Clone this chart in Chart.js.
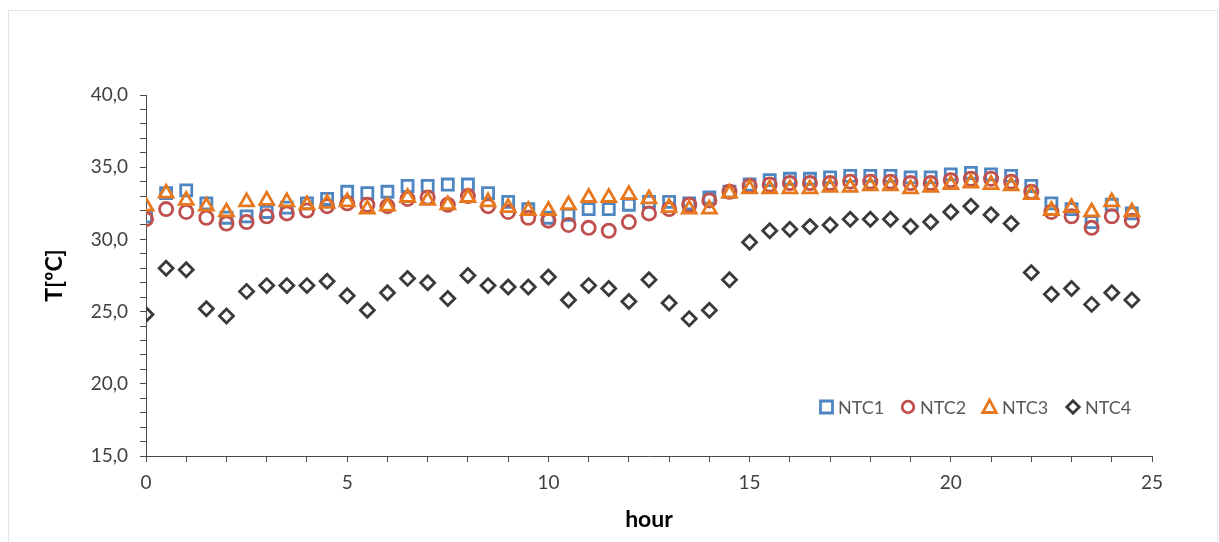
<!DOCTYPE html>
<html>
<head>
<meta charset="utf-8">
<script src="https://cdn.jsdelivr.net/npm/chart.js@4.4.1/dist/chart.umd.min.js"></script>
<style>
  html, body { margin: 0; padding: 0; background: #ffffff; }
  #wrap { position: relative; width: 1219px; height: 542px; }
  canvas { display: block; }
</style>
</head>
<body>
<div id="wrap"><canvas id="c" width="1219" height="542"></canvas></div>
<script>
const hours = [0,0.5,1,1.5,2,2.5,3,3.5,4,4.5,5,5.5,6,6.5,7,7.5,8,8.5,9,9.5,
               10,10.5,11,11.5,12,12.5,13,13.5,14,14.5,15,15.5,16,16.5,17,17.5,18,18.5,19,19.5,
               20,20.5,21,21.5,22,22.5,23,23.5,24,24.5];
const ntc1 = [31.6,33.2,33.4,32.5,31.5,31.6,31.9,32.2,32.5,32.8,
              33.3,33.2,33.3,33.7,33.7,33.8,33.8,33.2,32.6,32.1,
              31.5,31.7,32.1,32.1,32.4,32.6,32.6,32.5,32.9,33.3,
              33.8,34.1,34.2,34.2,34.3,34.4,34.4,34.4,34.3,34.3,
              34.5,34.6,34.5,34.4,33.7,32.5,32.1,31.2,32.4,31.8];
const ntc2 = [31.4,32.1,31.9,31.5,31.1,31.2,31.6,31.8,32.0,32.3,
              32.5,32.4,32.3,32.8,32.9,32.4,33.0,32.3,31.9,31.5,
              31.3,31.0,30.8,30.6,31.2,31.8,32.1,32.4,32.7,33.3,
              33.7,33.8,33.9,33.9,33.9,34.0,34.0,34.0,33.9,33.9,
              34.1,34.2,34.2,34.0,33.3,31.9,31.6,30.8,31.6,31.3];
const ntc3 = [32.3,33.2,32.7,32.3,31.9,32.6,32.7,32.6,32.4,32.5,
              32.6,32.1,32.3,32.9,32.7,32.4,32.9,32.6,32.2,32.0,
              32.0,32.4,32.9,32.9,33.1,32.8,32.2,32.1,32.1,33.2,
              33.5,33.5,33.5,33.5,33.6,33.6,33.7,33.7,33.5,33.6,
              33.8,33.9,33.8,33.7,33.1,32.0,32.2,31.9,32.6,31.9];
const ntc4 = [24.8,28.0,27.9,25.2,24.7,26.4,26.8,26.8,26.8,27.1,
              26.1,25.1,26.3,27.3,27.0,25.9,27.5,26.8,26.7,26.7,
              27.4,25.8,26.8,26.6,25.7,27.2,25.6,24.5,25.1,27.2,
              29.8,30.6,30.7,30.9,31.0,31.4,31.4,31.4,30.9,31.2,
              31.9,32.3,31.7,31.1,27.7,26.2,26.6,25.5,26.3,25.8];
const seriesNames = ['NTC1','NTC2','NTC3','NTC4'];
const xTickLabels = ['0','5','10','15','20','25'];
const yTickLabels = ['15,0','20,0','25,0','30,0','35,0','40,0'];

const colors = ['#4f86c1','#c0504d','#e8781e','#3a3a3a'];
const styles = ['rect','circle','triangle','rectRot'];
const radii = [7.8,6.6,8.0,7.0];

function pts(arr){ return hours.map((h,i)=>({x:h, y:arr[i]})); }
const allSeries = [ntc1, ntc2, ntc3, ntc4];

const datasets = allSeries.map((s,i)=>({
  label: seriesNames[i],
  data: pts(s),
  showLine: false,
  pointStyle: styles[i],
  pointRadius: radii[i],
  pointHoverRadius: radii[i],
  pointBorderWidth: 2.8,
  pointBackgroundColor: 'rgba(0,0,0,0)',
  pointBorderColor: colors[i],
  borderColor: colors[i],
  backgroundColor: 'rgba(0,0,0,0)',
  order: 4 - i
}));

const FONT = 'Lato, "Open Sans", sans-serif';
const AXIS = '#4a4a4a';

const framePlugin = {
  id: 'frame',
  beforeDraw(chart){
    const ctx = chart.ctx;
    ctx.save();
    ctx.fillStyle = '#ffffff';
    ctx.fillRect(0,0,chart.width,chart.height);
    ctx.strokeStyle = '#e6e6e6';
    ctx.lineWidth = 1;
    ctx.beginPath();
    ctx.moveTo(8.5, 542); ctx.lineTo(8.5, 10.5); ctx.lineTo(1217.5, 10.5); ctx.lineTo(1217.5, 542);
    ctx.stroke();
    ctx.restore();
  }
};

const legendPlugin = {
  id: 'customLegend',
  afterDraw(chart){
    const ctx = chart.ctx;
    const items = [
      {mx: 826.5, tx: 838},
      {mx: 908, tx: 920},
      {mx: 989.5, tx: 1002},
      {mx: 1073, tx: 1085}
    ];
    const cy = 407;
    ctx.save();
    ctx.font = '18px ' + FONT;
    ctx.textBaseline = 'middle';
    ctx.fillStyle = '#595959';
    items.forEach((it,i)=>{
      ctx.strokeStyle = colors[i];
      ctx.lineWidth = 2.8;
      ctx.beginPath();
      const x = it.mx, y = cy;
      if (styles[i]==='rect'){ ctx.rect(x-6,y-6,12,12); }
      else if (styles[i]==='circle'){ ctx.arc(x,y,5.8,0,Math.PI*2); }
      else if (styles[i]==='triangle'){ ctx.moveTo(x,y-7); ctx.lineTo(x+6.8,y+5.5); ctx.lineTo(x-6.8,y+5.5); ctx.closePath(); }
      else { ctx.moveTo(x-6.2,y); ctx.lineTo(x,y-6.2); ctx.lineTo(x+6.2,y); ctx.lineTo(x,y+6.2); ctx.closePath(); }
      ctx.stroke();
      ctx.fillText(seriesNames[i], it.tx, cy+1);
    });
    ctx.restore();
  }
};

new Chart(document.getElementById('c'), {
  type: 'scatter',
  data: { datasets },
  plugins: [framePlugin, legendPlugin],
  options: {
    responsive: false,
    animation: false,
    events: [],
    layout: { padding: { left: 0, right: 67, top: 95, bottom: 0 } },
    plugins: { legend: { display: false }, tooltip: { enabled: false } },
    scales: {
      x: {
        type: 'linear', min: 0, max: 25,
        afterFit(s){ s.height = 86; },
        border: { display: true, color: AXIS, width: 1 },
        grid: { display: true, drawOnChartArea: false, drawTicks: true, tickLength: 6, color: AXIS },
        ticks: {
          stepSize: 1, autoSkip: false, maxRotation: 0, padding: 9,
          color: '#404040', font: { family: FONT, size: 19 },
          callback(v){ const k = xTickLabels.indexOf(String(v)); return k >= 0 ? xTickLabels[k] : ''; }
        },
        title: { display: true, text: 'hour', color: '#000000',
                 font: { family: FONT, size: 23, weight: 'bold' }, padding: { top: 0, bottom: 9 } }
      },
      y: {
        type: 'linear', min: 15, max: 40,
        afterFit(s){ s.width = 146; },
        border: { display: true, color: AXIS, width: 1 },
        grid: { display: true, drawOnChartArea: false, drawTicks: true, tickLength: 6, color: AXIS },
        ticks: {
          stepSize: 1, autoSkip: false, padding: 12,
          color: '#404040', font: { family: FONT, size: 19 },
          callback(v){ const lab = v.toFixed(1).replace('.', ','); return yTickLabels.includes(lab) ? lab : ''; }
        },
        title: { display: true, text: 'T[ºC]', color: '#000000',
                 font: { family: FONT, size: 23, weight: 'bold' }, padding: { top: 41, bottom: 0 } }
      }
    }
  }
});
</script>
</body>
</html>
